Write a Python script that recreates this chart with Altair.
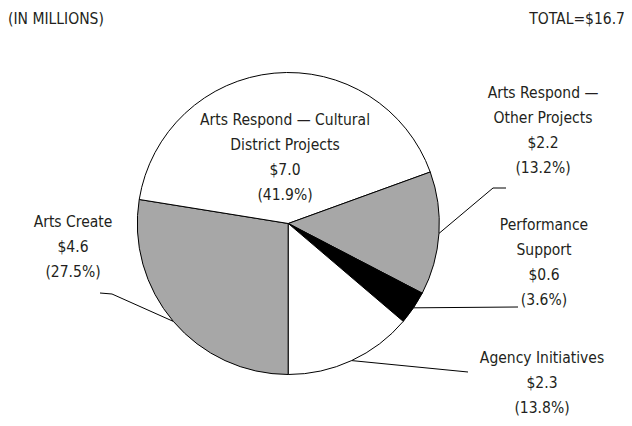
import math
import pandas as pd
import altair as alt

# ---- data ----
categories = [
    "Arts Create",
    "Arts Respond — Cultural District Projects",
    "Arts Respond — Other Projects",
    "Performance Support",
    "Agency Initiatives",
]
amounts = [4.6, 7.0, 2.2, 0.6, 2.3]
shares = [27.5, 41.9, 13.2, 3.6, 13.8]
name_lines = [
    ["Arts Create"],
    ["Arts Respond — Cultural", "District Projects"],
    ["Arts Respond —", "Other Projects"],
    ["Performance", "Support"],
    ["Agency Initiatives"],
]
unit_note = "(IN MILLIONS)"
total_note = "TOTAL=$16.7"

# ---- style / layout (page pixel coordinates) ----
fills = ["#a7a7a7", "#ffffff", "#a7a7a7", "#000000", "#ffffff"]
FONT = "DejaVu Sans Condensed, Liberation Sans Narrow, Roboto, sans-serif"
TEXT = "#231f20"
W, H = 616, 410
CX, CY, R = 288.3, 223.5, 151
# position of the first line of each label block
label_first = [(73, 222), (285, 120), (543, 93), (544, 225), (542, 358)]
leader_tails = [[(112, 294), (100, 293)], None, [(493, 188), (506, 188)], [(518, 307)], [(468, 372)]]

xs = alt.Scale(domain=[8, 8 + W], nice=False, zero=False)
ys = alt.Scale(domain=[8 + H, 8], nice=False, zero=False)

pie_df = pd.DataFrame({"idx": range(len(categories)), "category": categories, "amount": amounts})

arc = alt.Chart(pie_df).mark_arc(radius=R, stroke="black", strokeWidth=1).encode(
    theta=alt.Theta("amount:Q", stack=True, scale=alt.Scale(range=[math.pi, 3 * math.pi])),
    order=alt.Order("idx:Q"),
    color=alt.Color("category:N", scale=alt.Scale(domain=categories, range=fills), legend=None),
    x=alt.value(CX - 8),
    y=alt.value(CY - 8),
)

# leader lines: start on the rim at each slice's mid angle
total = sum(amounts)
rows = []
cum = 0.0
for i, a in enumerate(amounts):
    mid = math.pi + 2 * math.pi * (cum + a / 2) / total
    cum += a
    if leader_tails[i] is None:
        continue
    pts = [(CX + R * math.sin(mid), CY - R * math.cos(mid))] + leader_tails[i]
    for s, (px, py) in enumerate(pts):
        rows.append({"cat": categories[i], "seq": s, "px": px, "py": py})
lead_df = pd.DataFrame(rows)

leaders = alt.Chart(lead_df).mark_line(color="black", strokeWidth=1).encode(
    x=alt.X("px:Q", scale=xs, axis=None),
    y=alt.Y("py:Q", scale=ys, axis=None),
    detail="cat:N",
    order="seq:Q",
)

lab_df = pd.DataFrame({
    "label": ["\n".join(n + [f"${a:.1f}", f"({s:.1f}%)"]) for n, a, s in zip(name_lines, amounts, shares)],
    "lx": [c[0] for c in label_first],
    "ly": [c[1] for c in label_first],
})
labels = alt.Chart(lab_df).mark_text(
    font=FONT, fontSize=15.5, color=TEXT, lineBreak="\n", lineHeight=25,
    align="center", baseline="middle",
).encode(
    x=alt.X("lx:Q", scale=xs, axis=None),
    y=alt.Y("ly:Q", scale=ys, axis=None),
    text="label:N",
)

hdr_df = pd.DataFrame({"t": [unit_note], "hx": [8], "hy": [19]})
hdr = alt.Chart(hdr_df).mark_text(font=FONT, fontSize=15.5, color=TEXT, align="left", baseline="middle").encode(
    x=alt.X("hx:Q", scale=xs, axis=None), y=alt.Y("hy:Q", scale=ys, axis=None), text="t:N")
tot_df = pd.DataFrame({"t": [total_note], "hx": [625], "hy": [19]})
tot = alt.Chart(tot_df).mark_text(font=FONT, fontSize=15.5, color=TEXT, align="right", baseline="middle").encode(
    x=alt.X("hx:Q", scale=xs, axis=None), y=alt.Y("hy:Q", scale=ys, axis=None), text="t:N")

chart = alt.layer(arc, leaders, labels, hdr, tot).properties(
    width=W, height=H, autosize=alt.AutoSizeParams(type="none"), padding=0, background="white",
).configure_view(strokeWidth=0, stroke="transparent")

chart.save("out.html", embed_options={"renderer": "svg", "actions": False})
